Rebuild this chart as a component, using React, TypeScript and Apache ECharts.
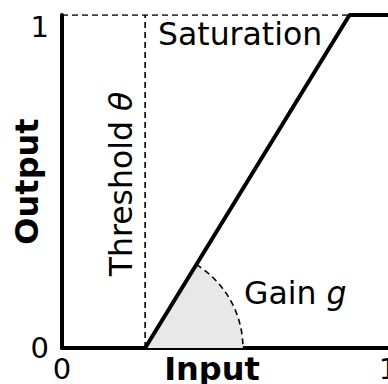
import React, { useEffect, useRef } from "react";
import * as echarts from "echarts";

const xTicks = [0, 1];
const yTicks = [0, 1];
const transferX = [0.255, 0.882, 1];
const transferY = [0, 1, 1];
const thresholdLine = [[0.255, 0], [0.255, 1]];
const saturationLine = [[0, 1], [0.882, 1]];
const gainWedge = [[0.255, 0, 0.882, 1, 0.3]];

const FONT = "DejaVu Sans";
const ANN = 31.5;

export default function App() {
  const ref = useRef<HTMLDivElement>(null);
  useEffect(() => {
    if (!ref.current) return;
    const chart = echarts.init(ref.current, null, { renderer: "svg" });
    const option: any = {
      animation: false,
      backgroundColor: "#ffffff",
      grid: { left: 62, top: 15, width: 326, height: 333, containLabel: false, outerBoundsMode: "none" },
      xAxis: {
        type: "value",
        min: xTicks[0],
        max: xTicks[xTicks.length - 1],
        interval: 1,
        axisLine: { show: true, onZero: false, lineStyle: { color: "#000", width: 4 } },
        axisTick: { show: false },
        splitLine: { show: false },
        axisLabel: {
          fontSize: 29,
          fontFamily: FONT,
          color: "#000",
          margin: 6,
          showMaxLabel: true,
          showMinLabel: true,
          hideOverlap: false,
          formatter: (v: number) => (xTicks.includes(v) ? String(v) : ""),
        },
        name: "Input",
        nameLocation: "middle",
        nameGap: 5,
        nameMoveOverlap: false,
        nameTextStyle: {
          fontSize: 32,
          fontWeight: "bold",
          fontFamily: FONT,
          color: "#000",
          verticalAlign: "top",
          padding: [0, 26, 0, 0],
        },
      },
      yAxis: {
        type: "value",
        min: yTicks[0],
        max: yTicks[yTicks.length - 1],
        interval: 1,
        axisLine: { show: true, onZero: false, lineStyle: { color: "#000", width: 4 } },
        axisTick: { show: false },
        splitLine: { show: false },
        axisLabel: {
          fontSize: 29,
          fontFamily: FONT,
          color: "#000",
          margin: 13,
          formatter: (v: number) => (v === 1 ? "{hi|1}" : "{lo|" + v + "}"),
          rich: {
            hi: { fontSize: 29, fontFamily: FONT, color: "#000", padding: [24, 0, 0, 0] },
            lo: { fontSize: 29, fontFamily: FONT, color: "#000" },
          },
        },
        name: "Output",
        nameLocation: "middle",
        nameGap: 19,
        nameRotate: 90,
        nameMoveOverlap: false,
        nameTextStyle: {
          fontSize: 32,
          fontWeight: "bold",
          fontFamily: FONT,
          color: "#000",
        },
      },
      series: [
        {
          type: "custom",
          z: 1,
          data: gainWedge,
          clip: false,
          renderItem: (params: any, api: any) => {
            const c = api.coord([api.value(0), api.value(1)]);
            const c1 = api.coord([api.value(2), api.value(3)]);
            const r = api.size([api.value(4), 0])[0];
            const ang = Math.atan2(c1[1] - c[1], c1[0] - c[0]);
            return {
              type: "group",
              children: [
                {
                  type: "sector",
                  shape: { cx: c[0], cy: c[1], r0: 0, r, startAngle: ang, endAngle: 0, clockwise: true },
                  style: { fill: "#e8e8e8", stroke: "none" },
                },
                {
                  type: "arc",
                  shape: { cx: c[0], cy: c[1], r, startAngle: ang, endAngle: 0, clockwise: true },
                  style: { fill: "none", stroke: "#000", lineWidth: 1.6, lineDash: [6, 4] },
                },
              ],
            };
          },
        },
        {
          type: "line",
          z: 2,
          data: thresholdLine,
          symbol: "none",
          lineStyle: { color: "#000", width: 1.6, type: [6, 4] },
        },
        {
          type: "line",
          z: 2,
          data: saturationLine,
          symbol: "none",
          lineStyle: { color: "#000", width: 1.6, type: [6, 4] },
        },
        {
          type: "line",
          z: 3,
          data: transferX.map((x, i) => [x, transferY[i]]),
          symbol: "none",
          clip: false,
          lineStyle: { color: "#000", width: 4 },
        },
      ],
      graphic: [
        {
          type: "text",
          x: 158,
          y: 33.5,
          style: { text: "Saturation", font: ANN + "px 'DejaVu Sans'", fill: "#000", verticalAlign: "middle", align: "left" },
        },
        {
          type: "text",
          x: 244,
          y: 293,
          style: {
            text: "{n|Gain }{i|g}",
            verticalAlign: "middle",
            align: "left",
            rich: {
              n: { fontSize: ANN, fontFamily: FONT, fill: "#000" },
              i: { fontSize: ANN, fontFamily: FONT, fontStyle: "italic", fill: "#000" },
            },
          },
        },
        {
          type: "text",
          x: 121,
          y: 184,
          rotation: Math.PI / 2,
          style: {
            text: "{n|Threshold }{i|θ}",
            verticalAlign: "middle",
            align: "center",
            rich: {
              n: { fontSize: ANN, fontFamily: FONT, fill: "#000" },
              i: { fontSize: ANN, fontFamily: FONT, fontStyle: "italic", fill: "#000" },
            },
          },
        },
      ],
    };
    chart.setOption(option);
    return () => chart.dispose();
  }, []);
  return (
    <div
      ref={ref}
      style={{ position: "fixed", left: 0, top: 0, width: 388, height: 384, background: "#fff" }}
    />
  );
}
